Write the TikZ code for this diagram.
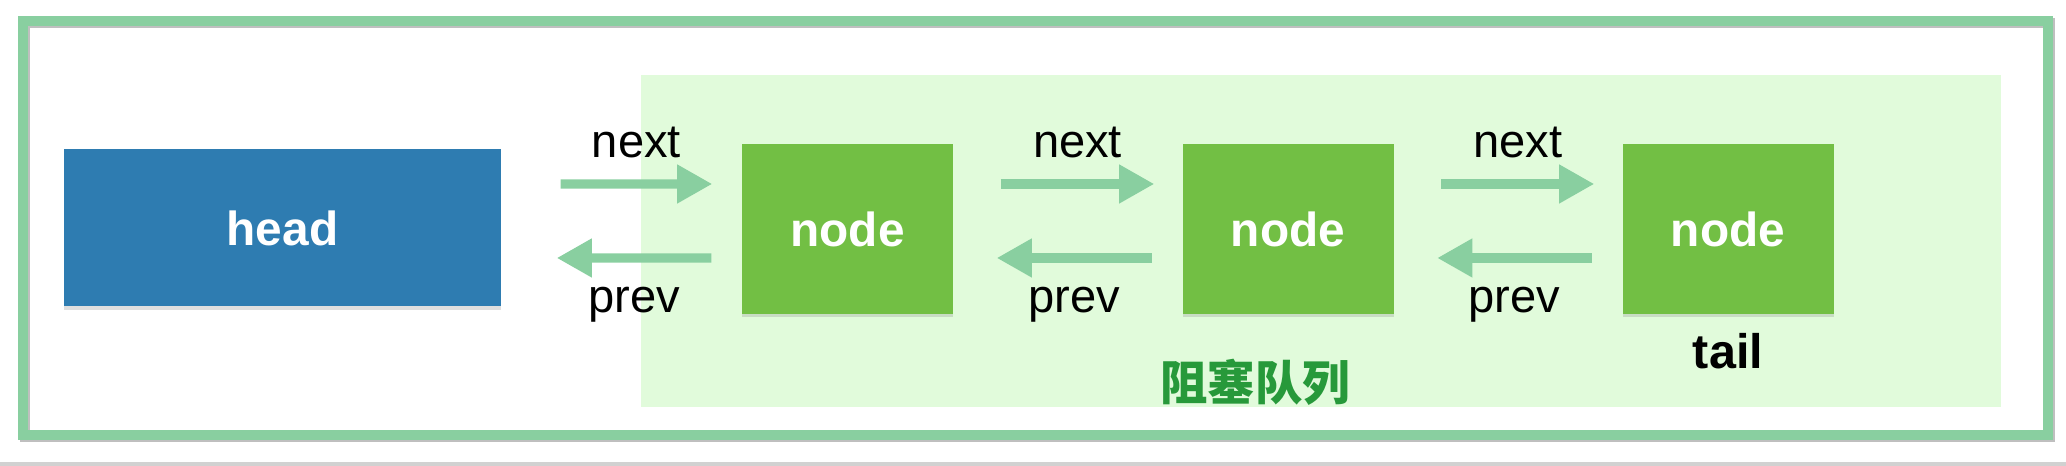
\documentclass[tikz,border=0pt]{standalone}
\usepackage{fontspec}
\setmainfont{Liberation Sans}
\newfontfamily\cjk{Noto Sans CJK SC}
\usepackage{xcolor}
\definecolor{FrameGreen}{HTML}{89CFA0}
\definecolor{QueueBg}{HTML}{E1FBDB}
\definecolor{NodeGreen}{HTML}{72BF44}
\definecolor{HeadBlue}{HTML}{2E7CB1}
\definecolor{QueueText}{HTML}{27993A}
\usetikzlibrary{arrows.meta,positioning,shadows}

\begin{document}
\begin{tikzpicture}[
  box/.style={inner sep=0pt, text=white, font=\fontsize{13.6}{16}\selectfont\bfseries,
    drop shadow={shadow xshift=0pt, shadow yshift=-1pt, opacity=0.25}},
  qnode/.style={box, fill=NodeGreen, minimum width=2.11cm, minimum height=1.70cm},
  link/.style={FrameGreen, line width=2.6pt, -{Triangle[length=10pt, width=10.4pt]}},
  linklabel/.style={inner sep=0pt, text=black, font=\fontsize{13.4}{16}\selectfont}
]
\useasboundingbox (0,0) rectangle (20.66,-4.66);

% outer frame
\draw[black!25, line width=2.8pt] (0.25,-0.23) rectangle (20.50,-4.37);
\draw[FrameGreen, line width=2.8pt] (0.23,-0.21) rectangle (20.48,-4.35);
\fill[black!18] (0,-4.62) rectangle (20.66,-4.66);

% queue area
\fill[QueueBg] (6.41,-0.75) rectangle (20.01,-4.07);

% head and nodes
\node[box, fill=HeadBlue, minimum width=4.37cm, minimum height=1.57cm] (head) at (2.825,-2.28) {head};
\node[qnode] (n1) at (8.475,-2.29) {node};
\node[qnode] (n2) at (12.88,-2.29) {node};
\node[qnode] (n3) at (17.28,-2.29) {node};

% next / prev links
\draw[link] ([shift={(0.59,0.44)}]head.east) -- node[above=0.21cm, linklabel] {next} ([shift={(-0.29,0.45)}]n1.west);
\draw[link] ([shift={(-0.30,-0.29)}]n1.west) -- node[below=0.25cm, linklabel] {prev} ([shift={(0.55,-0.30)}]head.east);

\draw[link] ([shift={(0.47,0.45)}]n1.east) -- node[above=0.21cm, linklabel] {next} ([shift={(-0.275,0.45)}]n2.west);
\draw[link] ([shift={(-0.30,-0.29)}]n2.west) -- node[below=0.25cm, linklabel] {prev} ([shift={(0.43,-0.29)}]n1.east);

\draw[link] ([shift={(0.47,0.45)}]n2.east) -- node[above=0.21cm, linklabel] {next} ([shift={(-0.275,0.45)}]n3.west);
\draw[link] ([shift={(-0.30,-0.29)}]n3.west) -- node[below=0.25cm, linklabel] {prev} ([shift={(0.43,-0.29)}]n2.east);

% labels
\node[inner sep=0pt, font=\fontsize{13.8}{16}\selectfont\bfseries, below=0.18cm of n3] (tail) {tail};
\node[text=QueueText, font=\cjk\bfseries\fontsize{13.5}{16}\selectfont] (queue) at (12.55,-3.82) {阻塞队列};
\end{tikzpicture}
\end{document}
